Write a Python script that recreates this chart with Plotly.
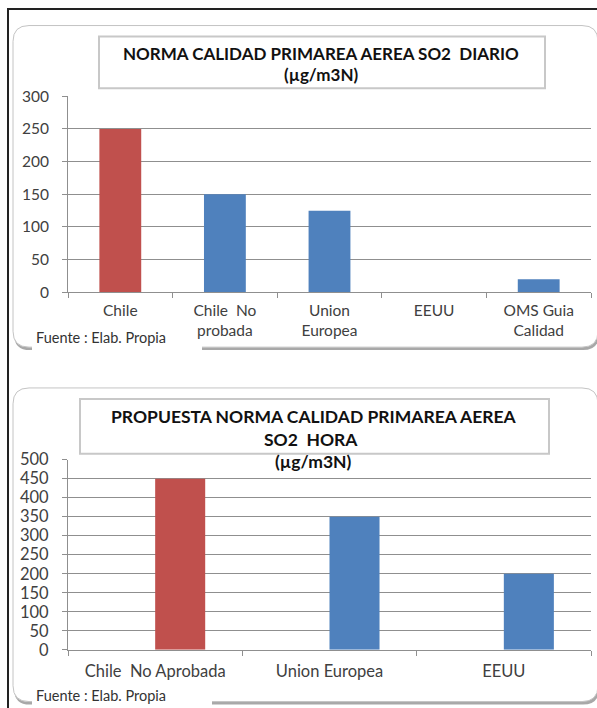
import plotly.graph_objects as go

W, H = 597, 708

# ---- data ----
daily_categories = ["Chile", "Chile\u00a0 No<br>probada", "Union<br>Europea", "EEUU", "OMS Guia<br>Calidad"]
daily_values = [250, 150, 125, None, 20]
daily_colors = ["#C0504D", "#4F81BD", "#4F81BD", "#4F81BD", "#4F81BD"]

hourly_categories = ["Chile\u00a0 No Aprobada", "Union Europea", "EEUU"]
hourly_values = [450, 350, 200]
hourly_colors = ["#C0504D", "#4F81BD", "#4F81BD"]

daily_title = ["NORMA CALIDAD PRIMAREA AEREA SO2\u00a0 DIARIO", "(µg/m3N)"]
hourly_title = ["PROPUESTA NORMA CALIDAD PRIMAREA AEREA", "SO2\u00a0 HORA", "(µg/m3N)"]
source_text = "Fuente : Elab. Propia"

FONT = "Lato"
GRID = "#8f8f8f"
TXT = "#404040"

# vertical correction measured from the rendered output
VS, VO = 0.976, 8.4


def X(px):
    return px / W


def Y(py):
    return 1 - ((py - VO) / VS) / H


def rrect(x0, y0, x1, y1, r):
    return (f"M {X(x0+r)},{Y(y0)} L {X(x1-r)},{Y(y0)} Q {X(x1)},{Y(y0)} {X(x1)},{Y(y0+r)} "
            f"L {X(x1)},{Y(y1-r)} Q {X(x1)},{Y(y1)} {X(x1-r)},{Y(y1)} "
            f"L {X(x0+r)},{Y(y1)} Q {X(x0)},{Y(y1)} {X(x0)},{Y(y1-r)} "
            f"L {X(x0)},{Y(y0+r)} Q {X(x0)},{Y(y0)} {X(x0+r)},{Y(y0)} Z")


fig = go.Figure()

fig.add_trace(go.Bar(x=daily_categories, y=daily_values, marker=dict(color=daily_colors, line=dict(width=0)),
                     width=0.4, xaxis="x", yaxis="y", showlegend=False))
fig.add_trace(go.Bar(x=hourly_categories, y=hourly_values, marker=dict(color=hourly_colors, line=dict(width=0)),
                     width=0.287, offset=0, xaxis="x2", yaxis="y2", showlegend=False))

shapes = []
# outer black frame
shapes.append(dict(type="path", xref="paper", yref="paper", layer="below",
                   path=f"M {X(8)},{Y(720)} L {X(8)},{Y(7.5)} L {X(600)},{Y(7.5)}",
                   line=dict(color="#222222", width=2)))
# panel boxes with shadow
for (x0, y0, x1, y1) in [(13, 24, 598, 347), (13, 388, 598, 703)]:
    shapes.append(dict(type="path", xref="paper", yref="paper", layer="below",
                       path=rrect(x0 + 1, y0 + 2, x1 + 1, y1 + 3, 16),
                       fillcolor="#a8a8a8", line=dict(width=0)))
    shapes.append(dict(type="path", xref="paper", yref="paper", layer="below",
                       path=rrect(x0, y0, x1, y1, 16),
                       fillcolor="white", line=dict(color="#c4c4c4", width=1)))
# white backing behind the source notes
for (x0, y0, x1, y1) in [(32, 328, 202, 352), (32, 686, 212, 712)]:
    shapes.append(dict(type="rect", xref="paper", yref="paper", layer="below",
                       x0=X(x0), x1=X(x1), y0=Y(y1), y1=Y(y0),
                       fillcolor="white", line=dict(width=0)))
# title boxes
for (x0, y0, x1, y1) in [(99, 35, 545, 87), (80, 399, 549, 454)]:
    shapes.append(dict(type="rect", xref="paper", yref="paper", layer="below",
                       x0=X(x0), x1=X(x1), y0=Y(y1), y1=Y(y0),
                       fillcolor="white", line=dict(color="#c8c8c8", width=2)))

annotations = []
for txt, cx, cy, fs in [(daily_title[0], 321, 52, 17), (daily_title[1], 321, 73, 17),
                        (hourly_title[0], 314, 417, 17.5), (hourly_title[1], 311, 440, 17.5),
                        (hourly_title[2], 313, 462, 17.5)]:
    annotations.append(dict(text=f"<b>{txt}</b>", x=X(cx), y=Y(cy), xref="paper", yref="paper",
                            xanchor="center", yanchor="middle", showarrow=False,
                            font=dict(family=FONT, size=fs, color="#111111")))
for cy in [337, 697]:
    annotations.append(dict(text=source_text, x=X(34), y=Y(cy), xref="paper", yref="paper",
                            xanchor="left", yanchor="middle", showarrow=False,
                            font=dict(family=FONT, size=14.5, color="#333333")))


def axis_style(size):
    return dict(showline=True, linecolor=GRID, linewidth=1, ticks="outside", ticklen=5,
                tickcolor=GRID, tickfont=dict(family=FONT, size=size, color=TXT), zeroline=False)


fig.update_layout(
    width=W, height=H, margin=dict(l=0, r=0, t=0, b=0),
    paper_bgcolor="white", plot_bgcolor="rgba(0,0,0,0)",
    bargap=0.6, shapes=shapes, annotations=annotations,
    xaxis=dict(domain=[X(68), X(591)], type="category", tickson="boundaries", anchor="y",
               showgrid=False, ticklabelstandoff=4, **axis_style(15.5)),
    yaxis=dict(domain=[Y(292), Y(95)], range=[0, 300], dtick=50, anchor="x",
               showgrid=True, gridcolor=GRID, gridwidth=1, ticklabelstandoff=10, **axis_style(15.5)),
    xaxis2=dict(domain=[X(68), X(591)], type="category", tickson="boundaries", anchor="y2",
                showgrid=False, ticklabelstandoff=6, **axis_style(16.5)),
    yaxis2=dict(domain=[Y(651), Y(460)], range=[0, 500], dtick=50, anchor="x2",
                showgrid=True, gridcolor=GRID, gridwidth=1, ticklabelstandoff=10, **axis_style(16.5)),
)

fig.write_html("out.html")
